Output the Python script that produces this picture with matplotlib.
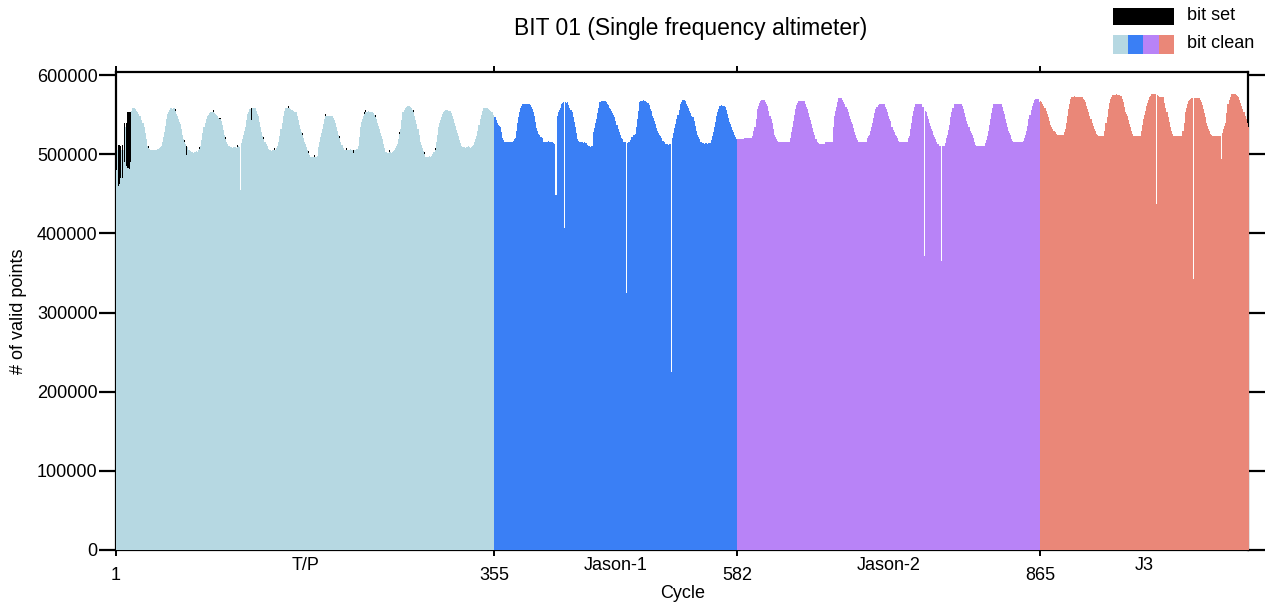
import numpy as np
import matplotlib
matplotlib.use("Agg")
import matplotlib.pyplot as plt
from matplotlib.patches import Rectangle

plt.rcParams["font.family"] = ["Liberation Sans", "DejaVu Sans"]

# Missions, their first cycle and colours
missions = ["T/P", "Jason-1", "Jason-2", "J3"]
mission_first_cycle = [1, 355, 582, 865]
mission_colors = ["#b6d8e2", "#3a7ff5", "#b883f7", "#ea8778"]
last_cycle = 1059

# Valid points per cycle with the bit clean, in thousands
tp_clean_k = [
    480, 505, 460, 462, 470, 505, 470, 505, 490, 535,
    485, 483, 482, 490, 555, 558, 559, 558, 557, 555,
    553, 551, 549, 548, 543, 539, 535, 527, 519, 511,
    508, 507, 506, 505, 506, 505, 506, 506, 505, 507,
    508, 509, 510, 516, 522, 528, 536, 544, 551, 554,
    556, 558, 558, 557, 558, 555, 551, 548, 545, 541,
    538, 532, 525, 519, 516, 513, 499, 509, 506, 504,
    503, 503, 502, 503, 503, 504, 503, 505, 507, 510,
    518, 527, 535, 540, 545, 548, 550, 552, 553, 553,
    554, 553, 552, 551, 550, 548, 546, 544, 542, 537,
    531, 525, 519, 516, 513, 511, 510, 509, 509, 508,
    509, 509, 508, 509, 510, 509, 455, 514, 519, 525,
    530, 535, 543, 551, 554, 557, 543, 559, 559, 559,
    558, 555, 551, 548, 541, 534, 528, 523, 519, 516,
    513, 510, 507, 505, 505, 504, 505, 505, 506, 505,
    508, 511, 515, 523, 532, 540, 548, 555, 559, 559,
    559, 558, 558, 557, 556, 556, 555, 554, 553, 548,
    543, 537, 532, 528, 524, 520, 516, 513, 509, 505,
    502, 499, 497, 496, 497, 497, 496, 497, 498, 509,
    516, 522, 527, 532, 538, 544, 549, 549, 549, 548,
    549, 549, 548, 546, 543, 540, 535, 530, 525, 520,
    516, 512, 508, 506, 505, 506, 506, 505, 506, 507,
    506, 505, 502, 505, 506, 507, 510, 522, 535, 541,
    545, 549, 551, 553, 554, 554, 555, 554, 554, 553,
    552, 550, 547, 544, 540, 536, 532, 527, 523, 519,
    513, 508, 503, 503, 502, 503, 503, 502, 503, 504,
    506, 508, 510, 513, 519, 526, 532, 543, 553, 556,
    558, 560, 561, 561, 561, 560, 558, 556, 553, 548,
    543, 538, 532, 524, 516, 512, 508, 504, 501, 497,
    497, 496, 497, 498, 497, 498, 500, 503, 506, 516,
    525, 535, 539, 543, 547, 551, 553, 555, 556, 556,
    556, 555, 555, 552, 548, 544, 540, 536, 531, 527,
    523, 518, 514, 511, 509, 509, 508, 509, 509, 510,
    509, 508, 509, 510, 512, 515, 519, 523, 530, 537,
    544, 550, 555, 559, 559, 559, 558, 558, 557, 556,
    555, 554, 553, 550,
]

j1_clean_k = [
    547, 543, 540, 537, 536, 535, 528, 521, 518, 516,
    516, 515, 516, 516, 515, 516, 516, 517, 519, 521,
    530, 540, 547, 553, 558, 561, 563, 563, 564, 563,
    564, 563, 563, 562, 560, 557, 553, 548, 541, 533,
    529, 526, 524, 522, 521, 516, 516, 515, 516, 516,
    517, 516, 515, 516, 516, 514, 513, 449, 548, 553,
    556, 559, 563, 565, 566, 407, 566, 565, 566, 562,
    559, 556, 553, 547, 541, 535, 527, 519, 517, 516,
    515, 515, 515, 514, 515, 514, 512, 510, 510, 509,
    510, 510, 528, 533, 539, 544, 552, 559, 566, 566,
    567, 567, 567, 567, 566, 564, 562, 559, 557, 555,
    552, 550, 547, 542, 537, 532, 528, 524, 521, 519,
    516, 515, 515, 325, 514, 515, 515, 518, 522, 525,
    525, 526, 535, 544, 555, 566, 567, 567, 567, 568,
    567, 567, 566, 565, 562, 557, 555, 549, 546, 542,
    538, 533, 529, 527, 525, 523, 521, 517, 515, 513,
    513, 513, 512, 513, 513, 225, 520, 527, 533, 538,
    544, 550, 556, 563, 566, 568, 568, 568, 567, 564,
    561, 558, 555, 552, 549, 547, 542, 536, 529, 525,
    522, 519, 516, 515, 514, 514, 513, 514, 514, 513,
    514, 514, 518, 523, 528, 535, 541, 548, 553, 557,
    561, 561, 562, 561, 561, 560, 556, 551, 546, 541,
    538, 535, 531, 528, 525, 522, 519,
]

j2_clean_k = [
    519, 519, 519, 519, 519, 519, 520, 521, 521, 521,
    521, 521, 521, 521, 523, 530, 535, 545, 557, 561,
    565, 567, 568, 568, 568, 568, 566, 564, 561, 555,
    549, 544, 540, 532, 525, 522, 519, 517, 516, 515,
    515, 515, 515, 515, 515, 515, 515, 515, 515, 520,
    528, 535, 542, 550, 557, 562, 565, 567, 567, 567,
    567, 567, 567, 563, 560, 557, 552, 547, 543, 538,
    533, 528, 524, 519, 516, 514, 513, 513, 513, 513,
    513, 513, 515, 516, 516, 516, 516, 516, 516, 535,
    548, 555, 560, 566, 571, 571, 571, 571, 568, 566,
    563, 560, 557, 553, 549, 545, 541, 538, 533, 528,
    524, 521, 518, 516, 515, 515, 515, 515, 515, 515,
    516, 520, 523, 525, 530, 535, 540, 546, 552, 557,
    560, 562, 564, 564, 564, 564, 564, 564, 560, 557,
    553, 549, 545, 542, 535, 531, 528, 525, 523, 520,
    517, 515, 515, 515, 515, 515, 515, 515, 516, 520,
    523, 532, 540, 548, 555, 560, 563, 563, 563, 563,
    563, 563, 563, 560, 372, 555, 553, 549, 545, 540,
    536, 532, 529, 525, 522, 519, 515, 513, 511, 511,
    365, 511, 511, 511, 514, 520, 525, 531, 537, 547,
    553, 558, 564, 564, 564, 564, 564, 564, 564, 564,
    561, 557, 552, 547, 542, 538, 534, 530, 527, 525,
    520, 515, 512, 510, 510, 510, 510, 510, 510, 510,
    510, 514, 518, 523, 530, 537, 544, 552, 558, 564,
    564, 564, 564, 564, 564, 564, 564, 560, 555, 551,
    545, 540, 535, 530, 527, 524, 519, 517, 516, 515,
    515, 515, 515, 515, 515, 515, 515, 517, 520, 525,
    530, 536, 544, 550, 556, 561, 565, 568, 570, 570,
    570, 570, 566,
]

j3_clean_k = [
    567, 566, 564, 561, 559, 555, 551, 547, 542, 537,
    534, 532, 530, 529, 528, 526, 525, 525, 525, 525,
    525, 525, 528, 532, 540, 548, 557, 564, 570, 573,
    573, 573, 574, 573, 573, 573, 572, 573, 573, 572,
    570, 568, 566, 561, 557, 553, 548, 544, 540, 536,
    532, 529, 526, 524, 523, 523, 523, 523, 523, 523,
    530, 540, 547, 557, 565, 570, 573, 575, 575, 575,
    575, 576, 575, 575, 575, 574, 570, 566, 560, 554,
    551, 548, 543, 538, 534, 530, 526, 523, 523, 523,
    523, 523, 523, 523, 530, 537, 544, 550, 555, 561,
    565, 569, 572, 574, 576, 576, 576, 576, 437, 575,
    574, 573, 572, 572, 572, 572, 565, 559, 553, 547,
    541, 535, 530, 526, 523, 523, 523, 523, 523, 523,
    523, 523, 523, 530, 540, 553, 559, 564, 567, 569,
    570, 571, 571, 342, 571, 571, 571, 571, 571, 569,
    566, 562, 557, 552, 547, 540, 536, 532, 529, 526,
    524, 523, 523, 523, 523, 523, 523, 523, 523, 494,
    527, 532, 536, 540, 552, 563, 569, 573, 576, 576,
    576, 576, 576, 575, 574, 572, 569, 565, 561, 557,
    553, 548, 544, 540, 535,
]

# Cycles with the bit set (T/P only), in thousands of points
tp_set_cycles = [1, 3, 4, 5, 7, 9, 11, 12, 13, 14,
                 31, 56, 65, 67, 79, 92, 98, 103, 114, 127,
                 139, 149, 162, 175, 181, 186, 197, 210, 216, 223,
                 233, 234, 243, 256, 266, 279, 289, 299]
tp_set_k = [30, 52, 50, 40, 42, 50, 55, 70, 72, 64,
            2.5, 2.5, 2.5, 12, 2.5, 2.5, 2.5, 2.5, 2.5, 15,
            2.5, 2.5, 2.5, 2.5, 2.5, 2.5, 2.5, 2.5, 2.5, 4,
            2.5, 2.5, 2.5, 2.5, 2.5, 2.5, 2.5, 2.5]

y_ticks = [0, 100000, 200000, 300000, 400000, 500000, 600000]
x_ticks = [1, 355, 582, 865]

W, H = 1265, 603
fig = plt.figure(figsize=(W / 100, H / 100), dpi=100)
ax = fig.add_axes([115.7 / W, 1 - 550 / H, (1248.3 - 115.7) / W, (550 - 72) / H])

series = [tp_clean_k, j1_clean_k, j2_clean_k, j3_clean_k]
for first, vals, col in zip(mission_first_cycle, series, mission_colors):
    cyc = np.arange(first, first + len(vals))
    ax.bar(cyc, np.asarray(vals) * 1000, width=1.0, align="edge", color=col,
           linewidth=0, antialiased=False, zorder=3, clip_on=False)

# bit set counts stacked on top of the clean counts
tp_clean = np.asarray(tp_clean_k) * 1000
set_cyc = np.asarray(tp_set_cycles)
ax.bar(set_cyc, np.asarray(tp_set_k) * 1000, bottom=tp_clean[set_cyc - 1], width=1.0,
       align="edge", color="black", linewidth=0, antialiased=False, zorder=4)

ax.set_xlim(1, 1059.5)
ax.set_ylim(0, 604000)

for s in ax.spines.values():
    s.set_linewidth(1.6)
    s.set_zorder(2.5)

ax.set_yticks(y_ticks)
ax.set_yticklabels([str(v) for v in y_ticks], fontsize=13)
ax.tick_params(axis="y", which="both", direction="out", length=12, width=1.6,
               left=True, right=True, labelleft=True, labelright=False, pad=1)
ax.set_xticks(x_ticks)
ax.set_xticklabels([str(v) for v in x_ticks], fontsize=13)
ax.tick_params(axis="x", which="both", direction="out", length=4, width=1.4,
               bottom=True, top=True, labelbottom=True, labeltop=False, pad=8)

# mission names centred under each mission's range
bounds = mission_first_cycle + [last_cycle]
for i, name in enumerate(missions):
    mid = (bounds[i] + bounds[i + 1]) / 2
    ax.text(mid, -0.033, name, transform=ax.get_xaxis_transform(),
            ha="center", va="center", fontsize=13)

fig.text(683 / W, 1 - 593 / H, "Cycle", ha="center", va="center", fontsize=13)
fig.text(19 / W, 1 - 311 / H, "# of valid points", rotation=90,
         ha="center", va="center", fontsize=13)
fig.text(691 / W, 1 - 28 / H, "BIT 01 (Single frequency altimeter)",
         ha="center", va="center", fontsize=16.5)

# legend drawn in figure space
fig.add_artist(Rectangle((1113 / W, 1 - 25 / H), 61 / W, 17 / H,
                         transform=fig.transFigure, color="black", lw=0))
seg_x = [1113, 1128, 1143, 1159, 1174]
for i, col in enumerate(mission_colors):
    fig.add_artist(Rectangle((seg_x[i] / W, 1 - 54 / H), (seg_x[i + 1] - seg_x[i]) / W,
                             19 / H, transform=fig.transFigure, color=col, lw=0))
fig.text(1187 / W, 1 - 15 / H, "bit set", ha="left", va="center", fontsize=13)
fig.text(1187 / W, 1 - 44 / H, "bit clean", ha="left", va="center", fontsize=13)

fig.savefig("out.png", dpi=100)
